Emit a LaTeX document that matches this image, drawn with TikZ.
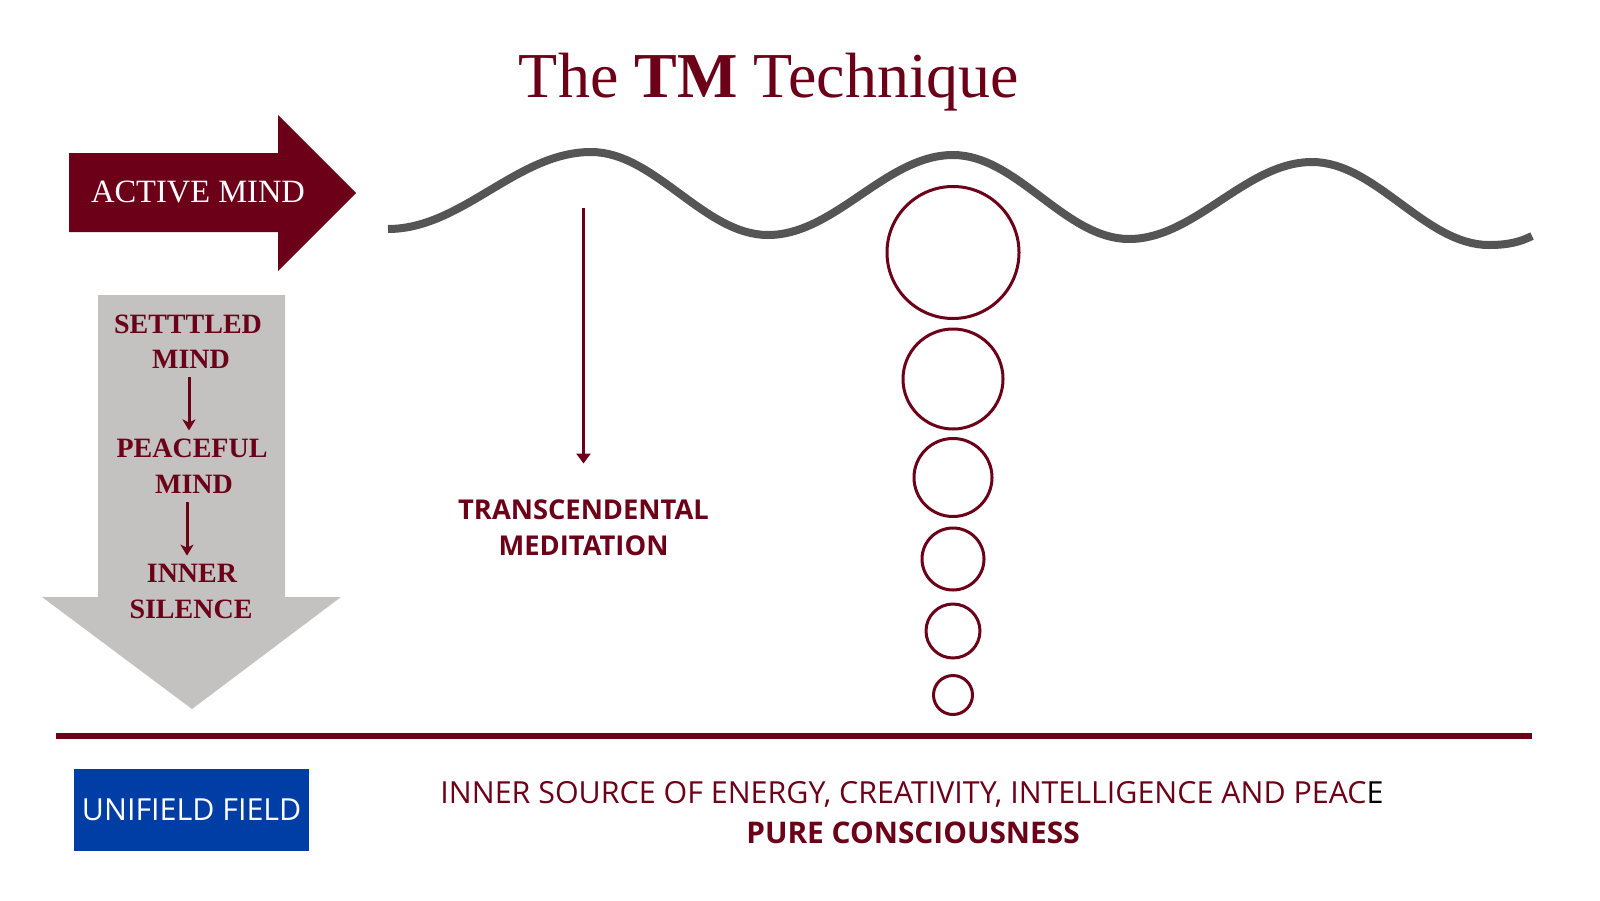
\documentclass[tikz,border=0pt]{standalone}
\usepackage{fontspec}
\setmainfont{Liberation Serif}
\newfontfamily\osans{Open Sans}
\usetikzlibrary{arrows.meta}
\definecolor{tmred}{RGB}{108,0,24}
\definecolor{tmgray}{RGB}{195,194,192}
\definecolor{tmblue}{RGB}{0,61,165}
\definecolor{wavegray}{RGB}{85,85,85}
\begin{document}
\begin{tikzpicture}[x=1pt,y=-1pt,
  lbl/.style={inner sep=0pt, outer sep=0pt, anchor=base},
  serifbold/.style={lbl, text=tmred, font=\bfseries\fontsize{28}{30}\selectfont},
  sansbold/.style={lbl, text=tmred, font=\osans\bfseries\fontsize{27.3}{30}\selectfont},
  bubble/.style={circle, draw=tmred, line width=3pt, inner sep=0pt},
  smallarr/.style={draw=tmred, line width=3pt, -{Stealth[length=11pt,width=13pt,inset=3pt]}},
  mainarr/.style={draw=tmred, line width=2.5pt, -{Triangle[length=10pt,width=14pt]}},
  wave/.style={draw=wavegray, line width=8pt}
]
\useasboundingbox (0,0) rectangle (1600,900);
\fill[white] (0,0) rectangle (1600,900);

% title
\node[lbl, text=tmred, font=\fontsize{64}{70}\selectfont] (title) at (769,97) {The \textbf{TM} Technique};

% active mind arrow
\fill[tmred] (69,153) -- (278,153) -- (278,115) -- (356,193) -- (278,271) -- (278,232) -- (69,232) -- cycle;
\node[lbl, text=white, font=\fontsize{32.5}{34}\selectfont] (active) at (198,202) {ACTIVE MIND};

% gray down arrow
\fill[tmgray] (98,295) -- (285,295) -- (285,597) -- (341,597) -- (192,709) -- (42,597) -- (98,597) -- cycle;
\node[serifbold] (s1) at (188,333) {SETTTLED};
\node[serifbold] (s2) at (191,368) {MIND};
\node[serifbold] (p1) at (192,457) {PEACEFUL};
\node[serifbold] (p2) at (194,493) {MIND};
\node[serifbold] (i1) at (192,582) {INNER};
\node[serifbold] (i2) at (191,618) {SILENCE};
\draw[smallarr, shorten <=9pt, shorten >=8pt] ([xshift=-2pt]s2.south) -- ([xshift=-2pt]s2.south |- p1.north);
\draw[smallarr, shorten <=9pt, shorten >=8pt] ([xshift=-7pt]p2.south) -- ([xshift=-7pt]p2.south |- i1.north);

% wave
\draw[wave] (388,229)
  .. controls (462,229) and (517,152) .. (591,152)
  .. controls (655,152) and (704,235) .. (768,235)
  .. controls (835,235) and (886,155) .. (953,155)
  .. controls (1017,155) and (1065,239) .. (1129,239)
  .. controls (1195,239) and (1246,162) .. (1312,162)
  .. controls (1376,162) and (1425,245) .. (1489,245)
  .. controls (1508,245) and (1520,242) .. (1532,236);

% transcendental meditation
\coordinate (tmtop) at (583.5,208);
\node[sansbold] (tm1) at (583.5,519.3) {TRANSCENDENTAL};
\node[sansbold] (tm2) at (583.5,555) {MEDITATION};
\draw[mainarr, shorten >=36pt] (tmtop) -- (tmtop |- tm1.north);

% bubbles
\node[bubble, minimum size=132pt] (b1) at (953,252.5) {};
\node[bubble, minimum size=100pt] (b2) at (953,379) {};
\node[bubble, minimum size=78pt] (b3) at (953,477.5) {};
\node[bubble, minimum size=62pt] (b4) at (953,559) {};
\node[bubble, minimum size=54pt] (b5) at (953,631) {};
\node[bubble, minimum size=39pt] (b6) at (953,695) {};

% base line
\coordinate (lineL) at (56,736);
\coordinate (lineR) at (1532,736);
\draw[tmred, line width=6pt] (lineL) -- (lineR);

% unified field box
\node[fill=tmblue, minimum width=234.5pt, minimum height=82pt, inner sep=0pt, text=white,
  font=\osans\fontsize{30.4}{32}\selectfont] (uf) at (191.7,810) {UNIFIELD FIELD};

% bottom texts
\node[lbl, text=tmred, font=\osans\fontsize{30.4}{32}\selectfont] (src) at (912,803)
  {INNER SOURCE OF ENERGY, CREATIVITY, INTELLIGENCE AND PEAC\textcolor{black}{E}};
\node[lbl, text=tmred, font=\osans\bfseries\fontsize{29.8}{32}\selectfont] (pure) at (913,843) {PURE CONSCIOUSNESS};
\end{tikzpicture}
\end{document}
